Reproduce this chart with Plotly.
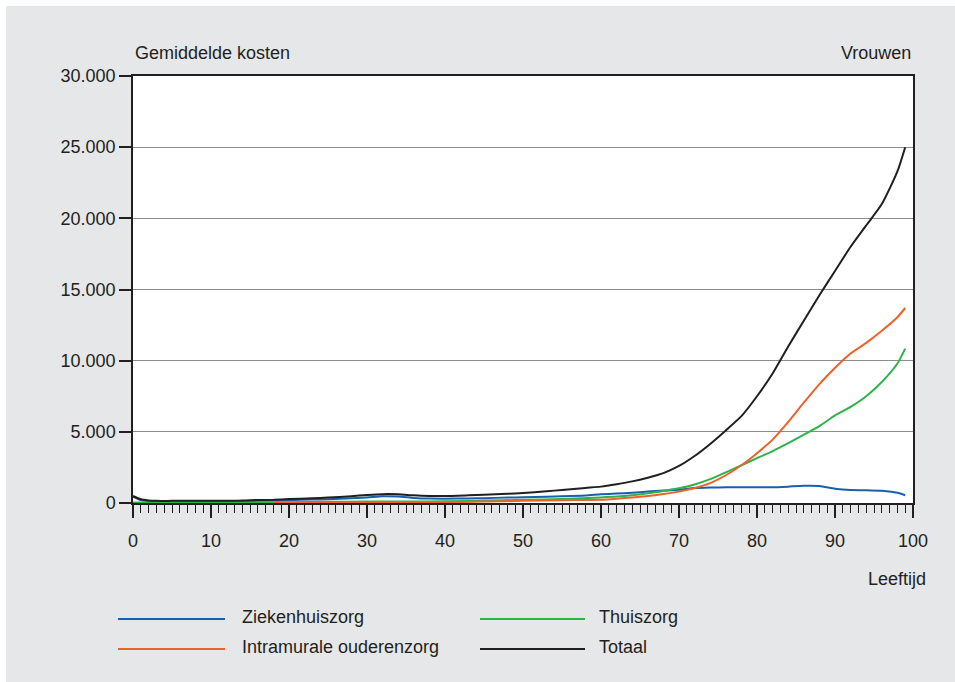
import plotly.graph_objects as go

# ---- data ----
ages_total = [0, 1, 2, 3, 5, 8, 10, 13, 15, 18, 20, 23, 25, 28, 30, 32, 34, 36, 38, 40,
              43, 45, 48, 50, 53, 55, 58, 60, 62, 64, 66, 68, 70, 72, 74, 76, 78, 80,
              82, 84, 86, 88, 90, 92, 94, 96, 98, 99]
totaal = [490, 260, 180, 150, 150, 150, 150, 160, 200, 230, 280, 330, 380, 480, 560, 620, 610, 540, 500, 490,
          540, 580, 650, 700, 820, 920, 1060, 1150, 1320, 1520, 1780, 2100, 2600, 3300, 4150, 5100, 6100, 7500,
          9100, 11000, 12800, 14600, 16300, 18000, 19500, 21000, 23300, 25000]

ziekenhuis = [450, 200, 130, 100, 100, 100, 100, 110, 140, 170, 200, 240, 270, 330, 380, 470, 450, 360, 310, 300,
              320, 340, 380, 400, 440, 470, 530, 610, 660, 720, 800, 870, 930, 1050, 1090, 1100, 1100, 1100,
              1100, 1150, 1210, 1190, 1000, 910, 900, 860, 720, 540]

ages_thuis = [0, 5, 10, 15, 18, 20, 25, 30, 35, 40, 45, 50, 55, 60, 62, 64, 66, 68, 70, 72, 74, 76, 78,
              80, 82, 84, 86, 88, 90, 92, 94, 96, 98, 99]
thuiszorg = [30, 30, 30, 40, 50, 60, 80, 100, 100, 120, 170, 220, 280, 390, 450, 550, 680, 850, 1030, 1300,
             1680, 2150, 2650, 3150, 3650, 4200, 4800, 5400, 6150, 6750, 7500, 8500, 9800, 10850]

ages_intra = [18, 20, 25, 30, 35, 40, 45, 50, 55, 60, 62, 64, 66, 68, 70, 72, 74, 76, 78, 80, 82, 84,
              86, 88, 90, 92, 94, 96, 98, 99]
intramuraal = [20, 20, 30, 40, 50, 60, 100, 150, 200, 230, 300, 390, 490, 630, 800, 1050, 1400, 1950, 2650,
               3500, 4450, 5700, 7050, 8350, 9500, 10500, 11250, 12100, 13050, 13700]

y_tickvals = [0, 5000, 10000, 15000, 20000, 25000, 30000]
y_ticktext = ["0", "5.000", "10.000", "15.000", "20.000", "25.000", "30.000"]
x_tickvals = [0, 10, 20, 30, 40, 50, 60, 70, 80, 90, 100]

colors = {"Ziekenhuiszorg": "#1a5fae", "Thuiszorg": "#2db34a",
          "Intramurale ouderenzorg": "#f0602a", "Totaal": "#231f20"}

TXT = "#231f20"
FONT = "Liberation Sans, Arial, sans-serif"
BG = "#e6e7e9"

fig = go.Figure()
series = [
    ("Ziekenhuiszorg", ages_total, ziekenhuis),
    ("Thuiszorg", ages_thuis, thuiszorg),
    ("Intramurale ouderenzorg", ages_intra, intramuraal),
    ("Totaal", ages_total, totaal),
]
for name, xs, ys in series:
    fig.add_trace(go.Scatter(x=xs, y=ys, mode="lines", name=name,
                             line=dict(color=colors[name], width=2, shape="spline", smoothing=0.6),
                             showlegend=False, hoverinfo="skip"))

OFF = 6  # white page strip at top/left
W, H = 955 - OFF, 682 - OFF
# plot area in page pixels
PL, PR, PT, PB = 133, 913, 76, 503
L, R, T, B = PL - OFF, PR - OFF, PT - OFF, PB - OFF


def px(xpage):
    return (xpage - PL) / (PR - PL)


def py(ypage):
    return (PB - ypage) / (PB - PT)


shapes = []
annotations = [
    dict(text="Gemiddelde kosten", x=0, y=py(53), xref="paper", yref="paper",
         xanchor="left", yanchor="middle", showarrow=False, font=dict(size=18, color=TXT, family=FONT)),
    dict(text="Vrouwen", x=1, y=py(53), xref="paper", yref="paper",
         xanchor="right", yanchor="middle", showarrow=False, font=dict(size=18, color=TXT, family=FONT)),
    dict(text="Leeftijd", x=px(928), y=py(579), xref="paper", yref="paper",
         xanchor="right", yanchor="middle", showarrow=False, font=dict(size=18, color=TXT, family=FONT)),
]

legend_layout = [
    ("Ziekenhuiszorg", 118, 225, 240, 619),
    ("Intramurale ouderenzorg", 118, 225, 240, 649),
    ("Thuiszorg", 480, 585, 597, 619),
    ("Totaal", 480, 585, 597, 649),
]
for name, lx0, lx1, tx, ly in legend_layout:
    shapes.append(dict(type="line", xref="paper", yref="paper", x0=px(lx0), x1=px(lx1),
                       y0=py(ly), y1=py(ly), line=dict(color=colors[name], width=2)))
    annotations.append(dict(text=name, x=px(tx), y=py(ly - 2), xref="paper", yref="paper",
                            xanchor="left", yanchor="middle", showarrow=False,
                            font=dict(size=18, color=TXT, family=FONT)))

fig.update_layout(
    width=W, height=H,
    margin=dict(l=L, r=W - R, t=T, b=H - B, pad=0),
    paper_bgcolor=BG,
    plot_bgcolor="white",
    font=dict(family=FONT, size=18, color=TXT),
    shapes=shapes,
    annotations=annotations,
    xaxis=dict(range=[0, 100], tickvals=x_tickvals, ticks="outside", ticklen=13, tickwidth=1.5,
               tickcolor=TXT, showgrid=False, zeroline=False, showline=True, linecolor=TXT,
               linewidth=1.5, mirror=True, ticklabelstandoff=8,
               minor=dict(dtick=1, ticks="outside", ticklen=8, tickwidth=1, tickcolor=TXT, showgrid=False),
               tickfont=dict(size=18, color=TXT, family=FONT)),
    yaxis=dict(range=[0, 30000], tickvals=y_tickvals, ticktext=y_ticktext, ticks="outside",
               ticklen=12, tickwidth=1.5, tickcolor=TXT, showgrid=True, gridcolor="#8c8c8c",
               gridwidth=1, zeroline=False, showline=True, linecolor=TXT, linewidth=1.5, mirror=True,
               tickfont=dict(size=18, color=TXT, family=FONT)),
)

post = ("document.documentElement.style.background='%s';"
        "document.body.style.margin='0';"
        "document.body.style.borderTop='%dpx solid white';"
        "document.body.style.borderLeft='%dpx solid white';"
        "document.body.style.overflow='hidden';"
        "document.documentElement.style.overflow='hidden';" % (BG, OFF, OFF))
fig.write_html("out.html", post_script=post)
